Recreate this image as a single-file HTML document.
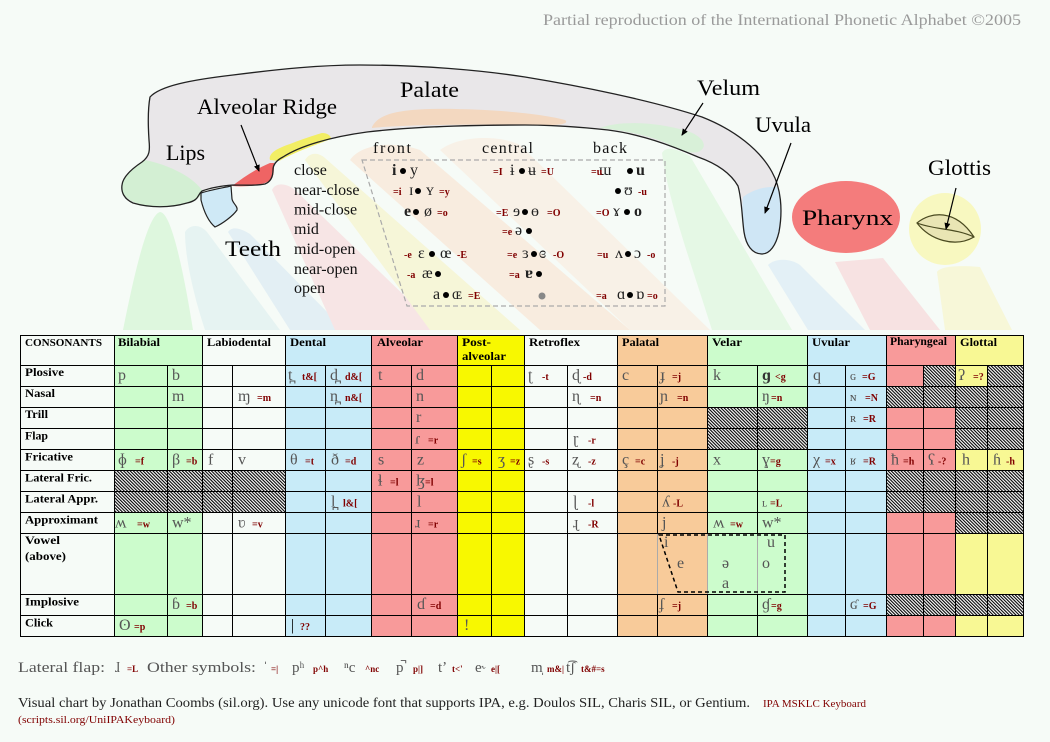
<!DOCTYPE html>
<html><head><meta charset="utf-8">
<style>
html,body{margin:0;padding:0;background:#f6fbf7;width:1050px;height:742px;overflow:hidden;}
svg{display:block;}
text{font-family:"Liberation Serif","DejaVu Serif",serif;}
.lab{font-size:22px;fill:#000;}
.v{font-size:16px;fill:#222;}
.d{font-size:10px;fill:#000;}
.r{font-size:10px;fill:#800000;font-weight:bold;}
.s{font-size:16px;fill:#555;}
.h{font-size:12px;font-weight:bold;fill:#000;}
.f{font-size:15px;fill:#555;}
.fr{font-size:9px;fill:#800000;font-weight:bold;}
</style></head><body>
<svg width="1050" height="742" viewBox="0 0 1050 742" xmlns="http://www.w3.org/2000/svg">
<defs>
<pattern id="hatch" patternUnits="userSpaceOnUse" width="2.3" height="4" patternTransform="rotate(-45)">
 <rect width="2.3" height="4" fill="#fff"/>
 <rect width="1.1" height="4" fill="#000"/>
</pattern>
<marker id="ah" markerWidth="7" markerHeight="7" refX="6" refY="3.5" orient="auto" markerUnits="userSpaceOnUse"><path d="M0,0.5 L7,3.5 L0,6.5 Z" fill="#000"/></marker>
</defs>
<rect width="1050" height="742" fill="#f6fbf7"/>

<!-- faint background fans -->
<g>
<path d="M123,330 C135,270 148,215 160,212 C172,212 185,280 193,330 Z" fill="#def7de"/>
<path d="M185,232 C190,224 200,224 207,232 L280,330 L205,330 C195,300 185,260 185,232 Z" fill="#e6f3f2"/>
<path d="M228,232 C232,226 240,228 250,234 L345,330 L290,330 Z" fill="#e3eff4"/>
<path d="M272,190 C275,183 285,182 295,190 L440,330 L335,330 Z" fill="#f7e5e5"/>
<path d="M305,160 C310,152 318,152 325,158 L520,330 L430,330 Z" fill="#f6f6d8"/>
<path d="M350,160 C360,145 390,140 420,150 L630,330 L540,330 Z" fill="#f8ecdf"/>
<path d="M440,150 C460,135 500,135 520,145 L710,330 L630,330 Z" fill="#f8f1e7"/>
<path d="M662,153 C666,146 675,148 690,156 L792,330 L712,330 C690,260 668,200 662,153 Z" fill="#e5f8e5"/>
<path d="M768,265 C775,258 790,258 800,265 L865,330 L808,330 Z" fill="#e3f0f6"/>
<path d="M835,262 L883,258 L940,330 L870,330 Z" fill="#f7e2e2"/>
<path d="M937,272 C940,266 960,265 980,267 L1012,330 L945,330 Z" fill="#f7f7d8"/>
</g>

<!-- title -->
<text x="543" y="25" font-size="16" fill="#9a9a9a" textLength="478" lengthAdjust="spacingAndGlyphs">Partial reproduction of the International Phonetic Alphabet ©2005</text>

<!-- mouth shape -->
<path d="M150,97 C160,86 190,80 233,75 C280,69 320,65 360,65 C420,65 480,70 525,77 C580,86 650,100 702,117 C735,130 760,150 772,172 C781,188 783,210 779,232 C776,245 770,254 762,254 C752,254 746,245 744,232 C742,218 742,200 738,186 C730,172 715,163 698,157 C670,145 640,134 608,130 C580,127 550,125 525,125 C470,125 410,127 367,132 C330,137 300,146 283,157 C275,161 273,166 273,170 C273,178 270,182 265,184 C255,186 245,185 233,185 C220,186 210,188 202,191 C197,195 200,200 187,203 C170,208 150,208 133,203 C124,199 121,192 122,185 C123,176 133,168 142,162 C150,156 150,150 149,140 C148,125 148,108 150,97 Z" fill="#e9e7e9"/>
<path d="M145,160 C170,165 195,178 203,192 C198,202 185,206 160,207 C140,207 124,200 122,190 C121,178 132,168 145,160 Z" fill="#d3efd3"/>
<path d="M232,186 C245,176 258,168 270,163 L274,163 C274,170 274,176 271,180 C262,186 245,187 232,186 Z" fill="#ef6464"/>
<path d="M270,160 C268,153 278,148 290,144 C300,140 315,135 322,133 C328,133 331,136 331,139 C315,145 295,152 279,161 Z" fill="#f2ee64"/>
<path d="M372,127 C378,115 395,110 430,109 C480,108 540,113 565,120 C570,124 560,126 525,125 C460,124 400,125 372,128 Z" fill="#f5d5b9" opacity="0.85"/>
<path d="M600,128 C620,120 660,122 690,132 C705,138 708,148 698,152 C690,154 680,150 670,145 C650,135 620,130 600,128 Z" fill="#d8f0d8"/>
<path d="M743,197 C752,190 765,186 777,187 C782,200 782,225 777,240 C773,250 767,254 760,254 C752,253 746,243 744,232 C742,220 742,205 743,197 Z" fill="#cfe6f5"/>
<path d="M150,97 C160,86 190,80 233,75 C280,69 320,65 360,65 C420,65 480,70 525,77 C580,86 650,100 702,117 C735,130 760,150 772,172 C781,188 783,210 779,232 C776,245 770,254 762,254 C752,254 746,245 744,232 C742,218 742,200 738,186 C730,172 715,163 698,157 C670,145 640,134 608,130 C580,127 550,125 525,125 C470,125 410,127 367,132 C330,137 300,146 283,157 C275,161 273,166 273,170 C273,178 270,182 265,184 C255,186 245,185 233,185 C220,186 210,188 202,191 C197,195 200,200 187,203 C170,208 150,208 133,203 C124,199 121,192 122,185 C123,176 133,168 142,162 C150,156 150,150 149,140 C148,125 148,108 150,97 Z" fill="none" stroke="#222" stroke-width="1.3"/>
<path d="M201,193 C210,190 222,188 231,186 L232,199 C233,204 238,206 237,210 C233,216 222,224 215,227 C209,222 204,212 201,200 Z" fill="#cfe9f6" stroke="#222" stroke-width="1.2"/>

<!-- pharynx & glottis -->
<ellipse cx="846" cy="217" rx="54" ry="36" fill="#f47c7c"/>
<circle cx="945" cy="229" r="36" fill="#f8f8c0"/>
<path d="M917,223 C930,212 955,208 974,237 C955,248 930,240 917,223 Z" fill="#e9e5b4" stroke="#4a4a20" stroke-width="1.2"/>
<path d="M917,223 C935,230 955,228 974,237" fill="none" stroke="#4a4a20" stroke-width="1.2"/>

<!-- labels -->
<text class="lab" x="197" y="114" textLength="140" lengthAdjust="spacingAndGlyphs">Alveolar Ridge</text>
<text class="lab" x="400" y="97" textLength="59" lengthAdjust="spacingAndGlyphs">Palate</text>
<text class="lab" x="166" y="160" textLength="39" lengthAdjust="spacingAndGlyphs">Lips</text>
<text class="lab" x="225" y="256" font-size="24" textLength="56" lengthAdjust="spacingAndGlyphs">Teeth</text>
<text class="lab" x="697" y="95" textLength="63" lengthAdjust="spacingAndGlyphs">Velum</text>
<text class="lab" x="755" y="132" textLength="56" lengthAdjust="spacingAndGlyphs">Uvula</text>
<text class="lab" x="802" y="225" font-size="26" textLength="91" lengthAdjust="spacingAndGlyphs">Pharynx</text>
<text class="lab" x="928" y="175" textLength="63" lengthAdjust="spacingAndGlyphs">Glottis</text>

<g stroke="#000" stroke-width="1.2" fill="none">
<line x1="241" y1="125" x2="259" y2="171" marker-end="url(#ah)"/>
<line x1="703" y1="103" x2="682" y2="135" marker-end="url(#ah)"/>
<line x1="791" y1="143" x2="765" y2="213" marker-end="url(#ah)"/>
<line x1="956" y1="188" x2="946" y2="229" marker-end="url(#ah)"/>
</g>

<!-- vowel chart -->
<path d="M362,160 L665,160 L665,306 L407,306 Z" fill="none" stroke="#aaa" stroke-width="1.2" stroke-dasharray="5,3"/>
<g font-size="16" fill="#111">
<text x="373" y="153" textLength="38" lengthAdjust="spacing">front</text>
<text x="482" y="153" textLength="51" lengthAdjust="spacing">central</text>
<text x="593" y="153" textLength="34" lengthAdjust="spacing">back</text>
<text x="294" y="175">close</text>
<text x="294" y="195">near-close</text>
<text x="294" y="214.5">mid-close</text>
<text x="294" y="234">mid</text>
<text x="294" y="254">mid-open</text>
<text x="294" y="274">near-open</text>
<text x="294" y="293">open</text>
</g>
<g class="v">
<text x="392" y="175" font-weight="bold">i</text><text x="410" y="175">y</text>
<text x="510" y="175">ɨ</text><text x="528" y="175">ʉ</text>
<text x="599" y="175">ɯ</text><text x="636" y="175" font-weight="bold">u</text>
<text x="409" y="195">ɪ</text><text x="426" y="195">ʏ</text>
<text x="624" y="195">ʊ</text>
<text x="404" y="216" font-weight="bold">e</text><text x="424" y="216">ø</text>
<text x="513" y="216">ɘ</text><text x="531" y="216">ɵ</text>
<text x="613" y="216">ɤ</text><text x="634" y="216" font-weight="bold">o</text>
<text x="515" y="235">ə</text>
<text x="418" y="258">ɛ</text><text x="440" y="258">œ</text>
<text x="522" y="258">ɜ</text><text x="539" y="258">ɞ</text>
<text x="615" y="258">ʌ</text><text x="634" y="258">ɔ</text>
<text x="422" y="278">æ</text>
<text x="525" y="278" font-weight="bold">ɐ</text>
<text x="433" y="299">a</text><text x="452" y="299">ɶ</text>
<text x="617" y="299">ɑ</text><text x="636" y="299">ɒ</text>
</g>
<g fill="#000">
<circle cx="403" cy="171" r="3"/><circle cx="522" cy="171" r="3"/><circle cx="630" cy="171" r="3"/>
<circle cx="418" cy="191" r="3"/><circle cx="618" cy="191" r="3"/>
<circle cx="416" cy="212" r="3"/><circle cx="525" cy="212" r="3"/><circle cx="627" cy="212" r="3"/>
<circle cx="529" cy="231" r="3"/>
<circle cx="432" cy="254" r="3"/><circle cx="534" cy="254" r="3"/><circle cx="628" cy="254" r="3"/>
<circle cx="438" cy="274" r="3"/><circle cx="539" cy="274" r="3"/>
<circle cx="446" cy="295" r="3"/><circle cx="630" cy="295" r="3"/>
</g>
<circle cx="542" cy="296" r="3.5" fill="#888"/>
<g class="r">
<text x="493" y="175">=I</text><text x="541" y="175">=U</text><text x="591" y="175">=u</text>
<text x="393" y="195">=i</text><text x="439" y="195">=y</text><text x="638" y="195">-u</text>
<text x="437" y="216">=o</text><text x="496" y="216">=E</text><text x="547" y="216">=O</text><text x="596" y="216">=O</text>
<text x="502" y="235">=e</text>
<text x="404" y="258">-e</text><text x="457" y="258">-E</text><text x="507" y="258">=e</text><text x="553" y="258">-O</text><text x="597" y="258">=u</text><text x="647" y="258">-o</text>
<text x="407" y="278">-a</text><text x="509" y="278">=a</text>
<text x="468" y="299">=E</text><text x="596" y="299">=a</text><text x="647" y="299">=o</text>
</g>

<!-- ===== TABLE ===== -->
<g>
<rect x="114" y="335" width="88" height="301" fill="#ccfccc"/>
<rect x="285" y="335" width="86" height="301" fill="#c8ebf8"/>
<rect x="371" y="335" width="86" height="301" fill="#f89a9a"/>
<rect x="457" y="335" width="67" height="301" fill="#f8f800"/>
<rect x="617" y="335" width="90" height="301" fill="#f8cb9a"/>
<rect x="707" y="335" width="100" height="301" fill="#ccfccc"/>
<rect x="807" y="335" width="79" height="301" fill="#c8ebf8"/>
<rect x="886" y="335" width="69" height="301" fill="#f89a9a"/>
<rect x="955" y="335" width="68" height="301" fill="#f8f894"/>
</g>
<g fill="url(#hatch)">
<rect x="114" y="470.5" width="171" height="42"/>
<rect x="923" y="365" width="32" height="21"/>
<rect x="987" y="365" width="36" height="21"/>
<rect x="886" y="386" width="137" height="21"/>
<rect x="707" y="407" width="100" height="42.5"/>
<rect x="955" y="407" width="68" height="42.5"/>
<rect x="886" y="470.5" width="137" height="42"/>
<rect x="955" y="512.5" width="68" height="20.5"/>
<rect x="886" y="594" width="137" height="21"/>
</g>
<g stroke="#000" stroke-width="1" fill="none">
<path d="M20,335.5H1024M20,365.5H1024M20,386.5H1024M20,407.5H1024M20,428.5H1024M20,449.5H1024M20,470.5H1024M20,491.5H1024M20,512.5H1024M20,533.5H1024M20,594.5H1024M20,615.5H1024M20,636.5H1024"/>
<path d="M20.5,335V637M114.5,335V637M202.5,335V637M285.5,335V637M371.5,335V637M457.5,335V637M524.5,335V637M617.5,335V637M807.5,335V637M886.5,335V637M955.5,335V637M1023.5,335V637"/>
<path d="M707.5,335V533.5M707.5,594V637"/>
<path d="M167.5,365V637M232.5,365V637M325.5,365V637M411.5,365V637M491.5,365V637M567.5,365V637M845.5,365V637M923.5,365V637M987.5,365V637"/>
<path d="M657.5,365V533.5M657.5,594V637M757.5,365V533.5M757.5,594V637"/>
</g>
<g stroke="#aaa" stroke-width="1">
<path d="M657.5,534V594M707.5,534V594M757.5,534V594"/>
</g>
<path d="M659,535 L785,535 L785,592 L678,592 Z" fill="none" stroke="#000" stroke-width="1.5" stroke-dasharray="4,3"/>

<g class="h">
<text x="25" y="346" font-size="10.5" textLength="77" lengthAdjust="spacingAndGlyphs">CONSONANTS</text>
<text x="118" y="346" textLength="42" lengthAdjust="spacingAndGlyphs">Bilabial</text>
<text x="207" y="346" textLength="64" lengthAdjust="spacingAndGlyphs">Labiodental</text>
<text x="290" y="346" textLength="36" lengthAdjust="spacingAndGlyphs">Dental</text>
<text x="377" y="346" textLength="46" lengthAdjust="spacingAndGlyphs">Alveolar</text>
<text x="462" y="346" textLength="29" lengthAdjust="spacingAndGlyphs">Post-</text>
<text x="462" y="360" textLength="44" lengthAdjust="spacingAndGlyphs">alveolar</text>
<text x="529" y="346" textLength="51" lengthAdjust="spacingAndGlyphs">Retroflex</text>
<text x="622" y="346" textLength="37" lengthAdjust="spacingAndGlyphs">Palatal</text>
<text x="712" y="346" textLength="30" lengthAdjust="spacingAndGlyphs">Velar</text>
<text x="812" y="346" textLength="38" lengthAdjust="spacingAndGlyphs">Uvular</text>
<text x="890" y="345" textLength="57" lengthAdjust="spacingAndGlyphs">Pharyngeal</text>
<text x="960" y="346" textLength="37" lengthAdjust="spacingAndGlyphs">Glottal</text>
<text x="25" y="376" textLength="39" lengthAdjust="spacingAndGlyphs">Plosive</text>
<text x="25" y="397" textLength="30" lengthAdjust="spacingAndGlyphs">Nasal</text>
<text x="25" y="418" textLength="23" lengthAdjust="spacingAndGlyphs">Trill</text>
<text x="25" y="439.5" textLength="23" lengthAdjust="spacingAndGlyphs">Flap</text>
<text x="25" y="460.5" textLength="48" lengthAdjust="spacingAndGlyphs">Fricative</text>
<text x="25" y="481.5" textLength="67" lengthAdjust="spacingAndGlyphs">Lateral Fric.</text>
<text x="25" y="502.5" textLength="73" lengthAdjust="spacingAndGlyphs">Lateral Appr.</text>
<text x="25" y="523.5" textLength="73" lengthAdjust="spacingAndGlyphs">Approximant</text>
<text x="25" y="544" textLength="35" lengthAdjust="spacingAndGlyphs">Vowel</text>
<text x="25" y="560" textLength="41" lengthAdjust="spacingAndGlyphs">(above)</text>
<text x="25" y="605.5" textLength="54" lengthAdjust="spacingAndGlyphs">Implosive</text>
<text x="25" y="626.5" textLength="28" lengthAdjust="spacingAndGlyphs">Click</text>
</g>

<g class="s">
<text x="118" y="380">p</text><text x="172" y="380">b</text><text x="288" y="380">t̪</text><text x="330" y="380">d̪</text>
<text x="378" y="380">t</text><text x="416" y="380">d</text><text x="528" y="380">ʈ</text><text x="572" y="380">ɖ</text>
<text x="622" y="380">c</text><text x="660" y="380">ɟ</text><text x="713" y="380">k</text><text x="762" y="380" font-weight="bold" fill="#333">ɡ</text>
<text x="813" y="380">q</text><text x="850" y="380" font-size="13">ɢ</text><text x="958" y="380">ʔ</text>
<text x="172" y="401">m</text><text x="238" y="401">ɱ</text><text x="330" y="401">n̪</text><text x="416" y="401">n</text>
<text x="572" y="401">ɳ</text><text x="660" y="401">ɲ</text><text x="762" y="401">ŋ</text><text x="850" y="401" font-size="13">ɴ</text>
<text x="416" y="422">r</text><text x="850" y="422" font-size="13">ʀ</text>
<text x="415" y="443.5">ɾ</text><text x="573" y="443.5">ɽ</text>
<text x="118" y="464.5">ɸ</text><text x="172" y="464.5">β</text><text x="208" y="464.5">f</text><text x="238" y="464.5">v</text>
<text x="290" y="464.5">θ</text><text x="331" y="464.5">ð</text><text x="378" y="464.5">s</text><text x="417" y="464.5">z</text>
<text x="461" y="464.5">ʃ</text><text x="498" y="464.5">ʒ</text><text x="528" y="464.5">ʂ</text><text x="572" y="464.5">ʐ</text>
<text x="622" y="464.5">ç</text><text x="660" y="464.5">ʝ</text><text x="713" y="464.5">x</text><text x="762" y="464.5">ɣ</text>
<text x="813" y="464.5">χ</text><text x="850" y="464.5" font-size="13">ʁ</text><text x="891" y="464.5">ħ</text><text x="928" y="464.5">ʕ</text>
<text x="962" y="464.5">h</text><text x="993" y="464.5">ɦ</text>
<text x="378" y="485.5">ɬ</text><text x="416" y="485.5">ɮ</text>
<text x="331" y="506.5">l̪</text><text x="417" y="506.5">l</text><text x="573" y="506.5">ɭ</text><text x="662" y="506.5">ʎ</text><text x="762" y="506.5" font-size="12">ʟ</text>
<text x="115" y="527.5">ʍ</text><text x="172" y="527.5">w*</text><text x="238" y="527.5">ʋ</text><text x="415" y="527.5">ɹ</text>
<text x="573" y="527.5">ɻ</text><text x="662" y="527.5">j</text><text x="713" y="527.5">ʍ</text><text x="762" y="527.5">w*</text>
<text x="664" y="547">i</text><text x="677" y="568">e</text><text x="722" y="568">ə</text><text x="722" y="588">a</text>
<text x="767" y="547">u</text><text x="762" y="568">o</text>
<text x="172" y="609">ɓ</text><text x="417" y="609">ɗ</text><text x="659" y="609">ʄ</text><text x="762" y="609">ɠ</text><text x="850" y="609">ʛ</text>
<text x="119" y="630">ʘ</text><text x="291" y="630" fill="#000">|</text><text x="464" y="630">!</text>
</g>
<g class="r">
<text x="302" y="380">t&amp;[</text><text x="345" y="380">d&amp;[</text><text x="542" y="380">-t</text><text x="583" y="380">-d</text>
<text x="672" y="380">=j</text><text x="775" y="380">&lt;g</text><text x="862" y="380">=G</text><text x="973" y="380">=?</text>
<text x="257" y="401">=m</text><text x="345" y="401">n&amp;[</text><text x="590" y="401">=n</text><text x="677" y="401">=n</text><text x="771" y="401">=n</text><text x="865" y="401">=N</text>
<text x="863" y="422">=R</text>
<text x="428" y="443.5">=r</text><text x="588" y="443.5">-r</text>
<text x="135" y="464.5">=f</text><text x="186" y="464.5">=b</text><text x="305" y="464.5">=t</text><text x="345" y="464.5">=d</text>
<text x="472" y="464.5">=s</text><text x="510" y="464.5">=z</text><text x="542" y="464.5">-s</text><text x="588" y="464.5">-z</text>
<text x="635" y="464.5">=c</text><text x="672" y="464.5">-j</text><text x="770" y="464.5">=g</text><text x="825" y="464.5">=x</text>
<text x="863" y="464.5">=R</text><text x="903" y="464.5">=h</text><text x="938" y="464.5">-?</text><text x="1006" y="464.5">-h</text>
<text x="390" y="485.5">=l</text><text x="425" y="485.5">=l</text>
<text x="343" y="506.5">l&amp;[</text><text x="588" y="506.5">-l</text><text x="673" y="506.5">-L</text><text x="770" y="506.5">=L</text>
<text x="137" y="527.5">=w</text><text x="252" y="527.5">=v</text><text x="428" y="527.5">=r</text><text x="588" y="527.5">-R</text><text x="730" y="527.5">=w</text>
<text x="186" y="609">=b</text><text x="430" y="609">=d</text><text x="672" y="609">=j</text><text x="771" y="609">=g</text><text x="863" y="609">=G</text>
<text x="134" y="630">=p</text><text x="300" y="630">??</text>
</g>

<g class="f">
<text x="18" y="672" textLength="87" lengthAdjust="spacingAndGlyphs">Lateral flap:</text>
<text x="115" y="672">ɺ</text>
<text x="147" y="672" textLength="109" lengthAdjust="spacingAndGlyphs">Other symbols:</text>
<text x="263" y="672">ˈ</text>
<text x="292" y="672">pʰ</text>
<text x="344" y="672">ⁿc</text>
<text x="396" y="672">p̚</text>
<text x="438" y="672">tʼ</text>
<text x="475" y="672">e˞</text>
<text x="531" y="672">m̩</text>
<text x="566" y="672">t͡ʃ</text>
</g>
<g class="fr">
<text x="127" y="672">=L</text>
<text x="271" y="672">=|</text>
<text x="313" y="672">p^h</text>
<text x="365" y="672">^nc</text>
<text x="413" y="672">p|]</text>
<text x="452" y="672">t&lt;'</text>
<text x="491" y="672">e|[</text>
<text x="547" y="672">m&amp;|</text>
<text x="581" y="672">t&amp;#=s</text>
</g>
<text x="18" y="707" font-size="13.5" fill="#222" textLength="732" lengthAdjust="spacingAndGlyphs">Visual chart by Jonathan Coombs (sil.org). Use any unicode font that supports IPA, e.g. Doulos SIL, Charis SIL, or Gentium.</text>
<text x="763" y="707" font-size="11" fill="#800000" textLength="103" lengthAdjust="spacingAndGlyphs">IPA MSKLC Keyboard</text>
<text x="18" y="723" font-size="11" fill="#800000" textLength="157" lengthAdjust="spacingAndGlyphs">(scripts.sil.org/UniIPAKeyboard)</text>
</svg>
</body></html>
